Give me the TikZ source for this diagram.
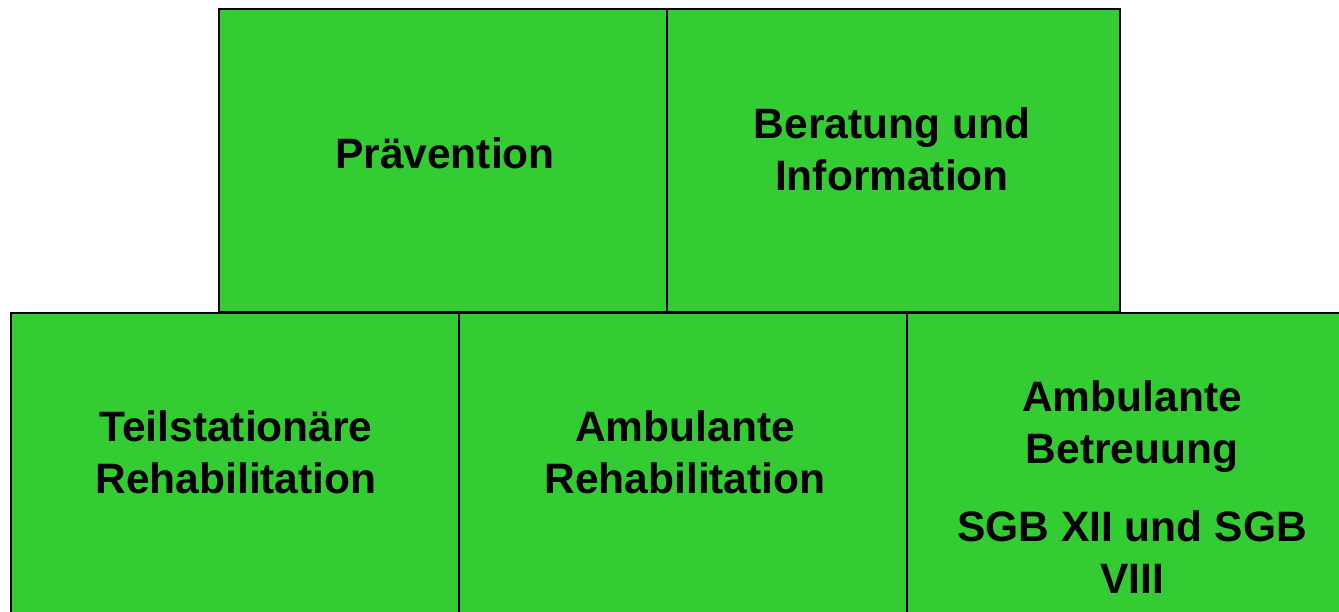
\documentclass[tikz,border=0pt]{standalone}
\usepackage{fontspec}
\setmainfont{Liberation Sans}
\definecolor{boxgreen}{HTML}{33CC33}
\tikzset{
  tile/.style={draw=black, line width=2pt, fill=boxgreen, rectangle, inner sep=0pt, anchor=north west},
  lbl/.style={align=center, font=\bfseries\fontsize{42.5}{52}\selectfont, inner sep=0pt}
}
\begin{document}
\begin{tikzpicture}[x=1pt,y=-1pt]
\useasboundingbox (0,0) rectangle (1339,612);
\begin{scope}
\clip (0,0) rectangle (1339,612);
\node[tile, minimum width=448pt, minimum height=303pt] (prev) at (218,8) {};
\node[tile, minimum width=453pt, minimum height=303pt] (bera) at (666,8) {};
\node[tile, minimum width=448pt, minimum height=330pt] (teil) at (10,312) {};
\node[tile, minimum width=448pt, minimum height=330pt] (ambr) at (458,312) {};
\node[tile, minimum width=460pt, minimum height=330pt] (ambb) at (906,312) {};
\end{scope}
\node[lbl] (tprev) at (445,153) {Prävention};
\node[lbl] (tbera) at (892,149) {Beratung und\\Information};
\node[lbl] (tteil) at (236,452) {Teilstationäre\\Rehabilitation};
\node[lbl] (tambr) at (685,452) {Ambulante\\Rehabilitation};
\node[lbl] (tambb) at (1132,487) {Ambulante\\Betreuung\\[26pt]SGB XII und SGB\\VIII};
\end{tikzpicture}
\end{document}
